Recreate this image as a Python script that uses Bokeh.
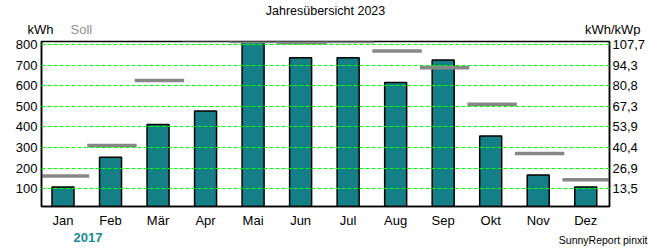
from bokeh.plotting import figure
from bokeh.models import FixedTicker, Label, LinearAxis, Range1d
from bokeh.layouts import column
from bokeh.embed import file_html
from bokeh.resources import INLINE

# ---- data ----
months = ["Jan", "Feb", "Mär", "Apr", "Mai", "Jun", "Jul", "Aug", "Sep", "Okt", "Nov", "Dez"]
ist_kwh = [109, 253, 412, 477, 812, 735, 735, 616, 725, 356, 167, 109]
soll_kwh = [162, 310, 625, 821, 814, 808, 814, 768, 687, 510, 271, 144]
left_ticks = [100, 200, 300, 400, 500, 600, 700, 800]
right_labels = ["13,5", "26,9", "40,4", "53,9", "67,3", "80,8", "94,3", "107,7"]
title_text = "Jahresübersicht 2023"
year_text = "2017"
left_unit = "kWh"
right_unit = "kWh/kWp"
soll_text = "Soll"
credit_text = "SunnyReport pinxit"

FONT = "Liberation Sans"
W, H = 650, 250
TOP_H = 36          # height of the top text strip
BOT_Y = 230         # where the bottom text strip starts
MAIN_H = BOT_Y - TOP_H
ML, MR, MT, MB = 41, 41, 5, 21
X0, X1 = 0.5476, 12.50
Y0, Y1 = 14.286, 814.286


def no_align(f):
    try:
        f.frame_align = False
    except Exception:
        pass


def strip(h):
    f = figure(width=W, height=h, output_backend="svg", toolbar_location=None,
               x_range=Range1d(0, W), y_range=Range1d(0, h),
               x_axis_type=None, y_axis_type=None, title=None,
               min_border=0, min_border_left=0, min_border_right=0,
               min_border_top=0, min_border_bottom=0)
    f.outline_line_color = None
    f.background_fill_color = "white"
    f.border_fill_color = "white"
    f.xgrid.visible = False
    f.ygrid.visible = False
    no_align(f)
    return f


def add_text(f, h, text, px, py, align="left", color="black", size=13, style="normal"):
    # Bokeh places the alphabetic baseline ~0.4em lower than asked; compensate
    f.add_layout(Label(x=px, y=h - (py - 0.4 * size), text=text, text_align=align,
                       text_baseline="alphabetic", text_font=FONT,
                       text_font_size=f"{size}px",
                       text_color=color, text_font_style=style))


# ---- top strip ----
top = strip(TOP_H)
add_text(top, TOP_H, title_text, 325, 15, align="center", size=12.5)
add_text(top, TOP_H, left_unit, 27, 34.5)
add_text(top, TOP_H, soll_text, 70, 34.5, color="#8f8f8f")
add_text(top, TOP_H, right_unit, 640, 34, align="right")

# ---- main chart ----
p = figure(width=W, height=MAIN_H, output_backend="svg", toolbar_location=None,
           x_range=Range1d(X0, X1), y_range=Range1d(Y0, Y1),
           min_border_left=ML, min_border_right=MR, min_border_top=MT, min_border_bottom=MB,
           title=None)
no_align(p)
p.background_fill_color = "white"
p.border_fill_color = "white"
p.outline_line_color = "black"
p.outline_line_width = 1.5

xs = list(range(1, len(months) + 1))

p.vbar(x=xs, top=ist_kwh, bottom=0, width=0.463, fill_color="#147F87",
       line_color="black", line_width=1.5)

off = 0.03
half = 0.52
p.segment(x0=[x + off - half for x in xs], x1=[x + off + half for x in xs],
          y0=soll_kwh, y1=soll_kwh, line_color="#878787", line_width=3.5)

p.xgrid.grid_line_color = None
p.ygrid.ticker = FixedTicker(ticks=left_ticks)
p.ygrid.grid_line_color = "#00FF00"
p.ygrid.grid_line_dash = "4 2"
p.ygrid.grid_line_width = 1
p.ygrid.level = "overlay"


def style_axis(ax):
    ax.major_tick_out = 0
    ax.major_tick_in = 0
    ax.minor_tick_out = 0
    ax.minor_tick_in = 0
    ax.axis_line_color = "black"
    ax.axis_line_width = 1.5
    ax.major_label_text_font = FONT
    ax.major_label_text_font_size = "13px"
    ax.major_label_text_color = "black"


la = p.yaxis[0]
la.ticker = FixedTicker(ticks=left_ticks)
style_axis(la)
la.major_label_standoff = 4

ra = LinearAxis(ticker=FixedTicker(ticks=left_ticks),
                major_label_overrides={t: l for t, l in zip(left_ticks, right_labels)})
style_axis(ra)
ra.major_label_standoff = 3
p.add_layout(ra, "right")

ba = p.xaxis[0]
ba.ticker = FixedTicker(ticks=xs)
ba.major_label_overrides = {x: m for x, m in zip(xs, months)}
style_axis(ba)
ba.major_label_standoff = 6

# ---- bottom strip ----
BOT_H = H - BOT_Y
bot = strip(BOT_H)
add_text(bot, BOT_H, year_text, 87.5, 242.5 - BOT_Y, align="center", color="#1a8a96", style="bold")
add_text(bot, BOT_H, credit_text, 647, 244 - BOT_Y, align="right", size=10.5)

layout = column(top, p, bot, spacing=0)
open("out.html", "w").write(file_html(layout, INLINE))
